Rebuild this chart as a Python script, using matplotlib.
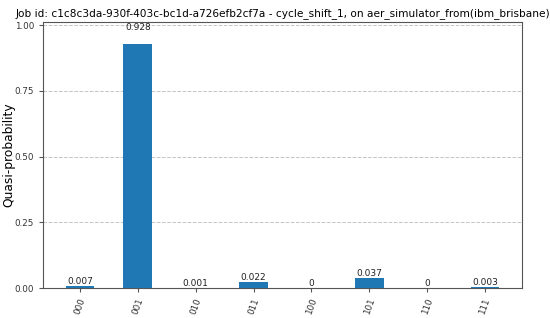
import matplotlib
matplotlib.use("Agg")
import matplotlib.pyplot as plt

states = ["000", "001", "010", "011", "100", "101", "110", "111"]
values = [0.007, 0.928, 0.001, 0.022, 0.0, 0.037, 0.0, 0.003]
value_labels = ["0.007", "0.928", "0.001", "0.022", "0", "0.037", "0", "0.003"]
title = "Job id: c1c8c3da-930f-403c-bc1d-a726efb2cf7a - cycle_shift_1, on aer_simulator_from(ibm_brisbane)"

fig = plt.figure(figsize=(5.5, 3.18), dpi=100)
ax = fig.add_axes([43/550, 1 - 288/318, (522-43)/550, (288-22)/318])

x = list(range(len(states)))
ax.bar(x, values, width=0.5, color="#1f77b4", zorder=3)
for xi, v, lab in zip(x, values, value_labels):
    ax.text(xi, 1.05 * v, lab, ha="center", va="bottom", fontsize=6.5, color="#222222", zorder=4)

ax.set_xlim(-0.64, 7.64)
ax.set_ylim(0, 1.012)
ax.set_yticks([0, 0.25, 0.5, 0.75, 1.0])
ax.set_yticklabels(["0.00", "0.25", "0.50", "0.75", "1.00"], fontsize=6.3, color="#333333")
ax.set_xticks(x)
ax.set_xticklabels(states, rotation=70, fontsize=6.3, color="#333333")
ax.grid(axis="y", linestyle="--", color="#c4c4c4", linewidth=0.7, zorder=0)
ax.set_ylabel("Quasi-probability", fontsize=8.8)
ax.yaxis.set_label_coords(-0.057, 0.5)
ax.set_title(title, fontsize=7.6, pad=4)
for s in ax.spines.values():
    s.set_color("#555555")
ax.tick_params(color="#555555", length=3)

fig.savefig("out.png", dpi=100)
